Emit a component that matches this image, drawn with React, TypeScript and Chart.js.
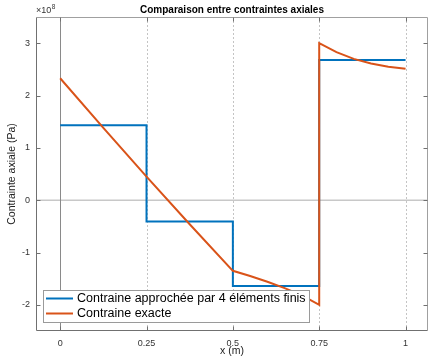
import { useEffect, useRef } from 'react';
import { Chart, registerables } from 'chart.js';

Chart.register(...registerables);

const FONT = '"Liberation Sans", Arial, Helvetica, sans-serif';

// Data (stress values in units of 10^8 Pa)
const nodeX = [0, 0.25, 0.5, 0.75, 1];
const approxStress = [1.43, -0.41, -1.64, 2.68];
const exactX = [0, 0.125, 0.25, 0.375, 0.5, 0.55, 0.6, 0.65, 0.7, 0.75, 0.75, 0.8, 0.85, 0.9, 0.95, 1];
const exactStress = [2.33, 1.38, 0.45, -0.46, -1.35, -1.45, -1.56, -1.68, -1.82, -2.0, 3.0, 2.83, 2.7, 2.61, 2.55, 2.51];
const xTicks = [0, 0.25, 0.5, 0.75, 1];
const xTickLabels = ['0', '0.25', '0.5', '0.75', '1'];
const yTicks = [-2, -1, 0, 1, 2, 3];
const yTickLabels = ['-2', '-1', '0', '1', '2', '3'];
const seriesLabels = ['Contraine approchée par 4 éléments finis', 'Contraine exacte'];
const seriesColors = ['#0072BD', '#D95319'];
const titleText = 'Comparaison entre contraintes axiales';
const xTitle = 'x (m)';
const yTitle = 'Contrainte axiale (Pa)';

const decoPlugin = {
  id: 'deco',
  beforeDatasetsDraw(chart: any) {
    const { ctx, chartArea: a, scales } = chart;
    const x = scales.x;
    const y = scales.y;
    ctx.save();
    // dashed vertical grid
    ctx.strokeStyle = '#c4c4c4';
    ctx.lineWidth = 1;
    ctx.setLineDash([2, 2]);
    for (const t of xTicks) {
      if (t === 0) continue;
      const px = Math.round(x.getPixelForValue(t)) + 0.5;
      ctx.beginPath();
      ctx.moveTo(px, a.top);
      ctx.lineTo(px, a.bottom);
      ctx.stroke();
    }
    ctx.setLineDash([]);
    // y = 0 line
    const py0 = y.getPixelForValue(0);
    ctx.strokeStyle = '#c8c8c8';
    ctx.lineWidth = 1.5;
    ctx.beginPath();
    ctx.moveTo(a.left, py0);
    ctx.lineTo(a.right, py0);
    ctx.stroke();
    // x = 0 line
    const px0 = Math.round(x.getPixelForValue(0)) + 0.5;
    ctx.strokeStyle = '#8a8a8a';
    ctx.lineWidth = 1;
    ctx.beginPath();
    ctx.moveTo(px0, a.top);
    ctx.lineTo(px0, a.bottom);
    ctx.stroke();
    ctx.restore();
  },
  afterDraw(chart: any) {
    const { ctx, chartArea: a, scales } = chart;
    const x = scales.x;
    const y = scales.y;
    ctx.save();
    ctx.lineWidth = 1;
    const l = Math.round(a.left) + 0.5;
    const r = Math.round(a.right) - 0.5;
    const t = Math.round(a.top) + 0.5;
    const b = Math.round(a.bottom) - 0.5;
    ctx.strokeStyle = '#a0a0a0';
    ctx.beginPath();
    ctx.moveTo(l, t);
    ctx.lineTo(r, t);
    ctx.lineTo(r, b);
    ctx.stroke();
    ctx.strokeStyle = '#707070';
    ctx.beginPath();
    ctx.moveTo(l, t);
    ctx.lineTo(l, b);
    ctx.lineTo(r, b);
    ctx.stroke();
    // tick marks (inward)
    ctx.strokeStyle = '#707070';
    for (const v of yTicks) {
      const py = Math.round(y.getPixelForValue(v)) + 0.5;
      ctx.beginPath();
      ctx.moveTo(l, py);
      ctx.lineTo(l + 4, py);
      ctx.moveTo(r, py);
      ctx.lineTo(r - 4, py);
      ctx.stroke();
    }
    for (const v of xTicks) {
      const px = Math.round(x.getPixelForValue(v)) + 0.5;
      ctx.beginPath();
      ctx.moveTo(px, b);
      ctx.lineTo(px, b - 4);
      ctx.moveTo(px, t);
      ctx.lineTo(px, t + 4);
      ctx.stroke();
    }
    // exponent label
    ctx.fillStyle = '#333';
    ctx.textBaseline = 'alphabetic';
    ctx.textAlign = 'left';
    ctx.font = `9px ${FONT}`;
    ctx.fillText('\u00d710', a.left, a.top - 4);
    const w = ctx.measureText('\u00d710').width;
    ctx.font = `6.5px ${FONT}`;
    ctx.fillText('8', a.left + w + 0.5, a.top - 8);
    // legend
    const lx = 43;
    const ly = 290;
    const lw = 267;
    const lh = 33;
    ctx.fillStyle = '#ffffff';
    ctx.fillRect(lx, ly, lw, lh);
    ctx.strokeStyle = '#9a9a9a';
    ctx.lineWidth = 1;
    ctx.strokeRect(lx + 0.5, ly + 0.5, lw - 1, lh - 1);
    ctx.font = `12.5px ${FONT}`;
    ctx.textBaseline = 'middle';
    seriesLabels.forEach((label, i) => {
      const cy = ly + 8.5 + i * 15;
      ctx.strokeStyle = seriesColors[i];
      ctx.lineWidth = 2;
      ctx.beginPath();
      ctx.moveTo(lx + 3, cy);
      ctx.lineTo(lx + 30, cy);
      ctx.stroke();
      ctx.fillStyle = '#000';
      ctx.fillText(label, lx + 34, cy + 0.5);
    });
    ctx.restore();
  },
};

export default function App() {
  const ref = useRef<HTMLCanvasElement>(null);
  useEffect(() => {
    if (!ref.current) return;
    const approxPoints = nodeX.map((xv, i) => ({ x: xv, y: approxStress[Math.min(i, approxStress.length - 1)] }));
    const exactPoints = exactX.map((xv, i) => ({ x: xv, y: exactStress[i] }));
    const chart = new Chart(ref.current, {
      type: 'line',
      data: {
        datasets: [
          {
            label: seriesLabels[0],
            data: approxPoints,
            borderColor: seriesColors[0],
            backgroundColor: seriesColors[0],
            borderWidth: 2,
            pointRadius: 0,
            stepped: 'before',
            fill: false,
            order: 1,
          },
          {
            label: seriesLabels[1],
            data: exactPoints,
            borderColor: seriesColors[1],
            backgroundColor: seriesColors[1],
            borderWidth: 2,
            pointRadius: 0,
            tension: 0,
            fill: false,
            order: 0,
          },
        ],
      },
      options: {
        responsive: false,
        animation: false,
        events: [],
        layout: { padding: { left: 0, right: 2, top: 0, bottom: 0 } },
        plugins: {
          legend: { display: false },
          tooltip: { enabled: false },
          title: {
            display: true,
            text: titleText,
            fullSize: false,
            color: '#000',
            font: { family: FONT, size: 10, weight: 'bold' },
            padding: { top: 4, bottom: 1 },
          },
        },
        scales: {
          x: {
            type: 'linear',
            min: -0.07,
            max: 1.065,
            afterBuildTicks: (s: any) => {
              s.ticks = xTicks.map((v) => ({ value: v }));
            },
            afterFit: (s: any) => {
              s.height = 27;
            },
            ticks: {
              autoSkip: false,
              maxRotation: 0,
              padding: 7,
              color: '#333',
              font: { family: FONT, size: 9 },
              callback: (v: any) => xTickLabels[xTicks.indexOf(Number(v))] ?? '',
            },
            grid: { display: false, drawTicks: false },
            border: { display: false },
            title: {
              display: true,
              text: xTitle,
              color: '#222',
              font: { family: FONT, size: 10.5 },
              padding: { top: 0, bottom: 1 },
            },
          },
          y: {
            type: 'linear',
            min: -2.5,
            max: 3.5,
            afterBuildTicks: (s: any) => {
              s.ticks = yTicks.map((v) => ({ value: v }));
            },
            afterFit: (s: any) => {
              s.width = 36;
            },
            ticks: {
              padding: 6,
              color: '#333',
              font: { family: FONT, size: 9 },
              callback: (v: any) => yTickLabels[yTicks.indexOf(Number(v))] ?? '',
            },
            grid: { display: false, drawTicks: false },
            border: { display: false },
            title: {
              display: true,
              text: yTitle,
              color: '#222',
              font: { family: FONT, size: 10.5 },
              padding: { top: 6, bottom: 0 },
            },
          },
        },
      },
      plugins: [decoPlugin],
    } as any);
    return () => chart.destroy();
  }, []);
  return (
    <div style={{ position: 'absolute', left: 0, top: 0, width: 430, height: 358, background: '#fff' }}>
      <canvas ref={ref} width={430} height={358} />
    </div>
  );
}
